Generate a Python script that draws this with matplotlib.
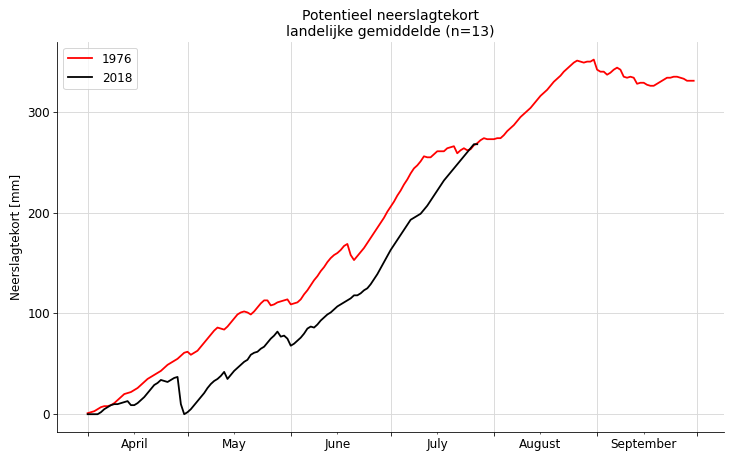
import numpy as np
import matplotlib
matplotlib.use("Agg")
import matplotlib.pyplot as plt
import matplotlib.dates as mdates

# dagwaarden vanaf 1 april
tekort_1976 = [1, 2, 3, 5, 7, 8, 8, 9, 11, 14, 17, 20, 21, 22, 24, 26, 29, 32, 35, 37,
               39, 41, 43, 46, 49, 51, 53, 55, 58, 61, 62, 59, 61, 63, 67, 71, 75, 79, 83, 86,
               85, 84, 87, 91, 95, 99, 101, 102, 101, 99, 102, 106, 110, 113, 113, 108, 109, 111, 112, 113,
               114, 109, 110, 111, 114, 119, 123, 128, 133, 137, 142, 146, 151, 155, 158, 160, 163, 167, 169, 158,
               153, 157, 161, 165, 170, 175, 180, 185, 190, 195, 201, 206, 211, 217, 222, 228, 233, 239, 244, 247,
               251, 256, 255, 255, 258, 261, 261, 261, 264, 265, 266, 259, 262, 264, 262, 263, 267, 269, 272, 274,
               273, 273, 273, 274, 274, 277, 281, 284, 287, 291, 295, 298, 301, 304, 308, 312, 316, 319, 322, 326,
               330, 333, 336, 340, 343, 346, 349, 351, 350, 349, 350, 350, 352, 342, 340, 340, 337, 339, 342, 344,
               342, 335, 334, 335, 334, 328, 329, 329, 327, 326, 326, 328, 330, 332, 334, 334, 335, 335, 334, 333,
               331, 331, 331]
tekort_2018 = [0, 0, 0, 0, 2, 5, 7, 9, 10, 10, 11, 12, 13, 9, 9, 11, 14, 17, 21, 25,
               29, 31, 34, 33, 32, 34, 36, 37, 10, 0, 2, 5, 9, 13, 17, 21, 26, 30, 33, 35,
               38, 42, 35, 39, 43, 46, 49, 52, 54, 59, 61, 62, 65, 67, 71, 75, 78, 82, 77, 78,
               75, 68, 70, 73, 76, 80, 85, 87, 86, 89, 93, 96, 99, 101, 104, 107, 109, 111, 113, 115,
               118, 118, 120, 123, 125, 129, 134, 139, 145, 151, 157, 163, 168, 173, 178, 183, 188, 193, 195, 197,
               199, 203, 207, 212, 217, 222, 227, 232, 236, 240, 244, 248, 252, 256, 260, 264, 268, 268]

start = np.datetime64("1976-04-01")
dagen_1976 = start + np.arange(len(tekort_1976))
dagen_2018 = start + np.arange(len(tekort_2018))

plt.rcParams["font.family"] = "DejaVu Sans"
fig = plt.figure(figsize=(735 / 72, 460 / 72), dpi=72)
ax = fig.add_axes([0.078, 0.061, 0.907, 0.848])

ax.plot(dagen_1976, tekort_1976, color="red", lw=1.8, label="1976")
ax.plot(dagen_2018, tekort_2018, color="black", lw=1.8, label="2018")

ax.xaxis.set_major_locator(mdates.MonthLocator())
ax.xaxis.set_major_formatter(plt.NullFormatter())
ax.xaxis.set_minor_locator(mdates.MonthLocator(bymonthday=15))
ax.xaxis.set_minor_formatter(mdates.DateFormatter("%B"))
ax.tick_params(axis="x", which="major", length=4)
ax.tick_params(axis="x", which="minor", length=2, labelsize=12, pad=4)
ax.tick_params(axis="y", labelsize=12, length=4)
ax.set_yticks([0, 100, 200, 300])

ax.grid(True, color="#d9d9d9", lw=0.9)
ax.spines["top"].set_visible(False)
ax.spines["right"].set_visible(False)

ax.set_ylabel("Neerslagtekort [mm]", fontsize=12)
ax.set_title("Potentieel neerslagtekort\nlandelijke gemiddelde (n=13)", fontsize=14)
ax.legend(loc="upper left", fontsize=12)

fig.savefig("out.png", dpi=72)
